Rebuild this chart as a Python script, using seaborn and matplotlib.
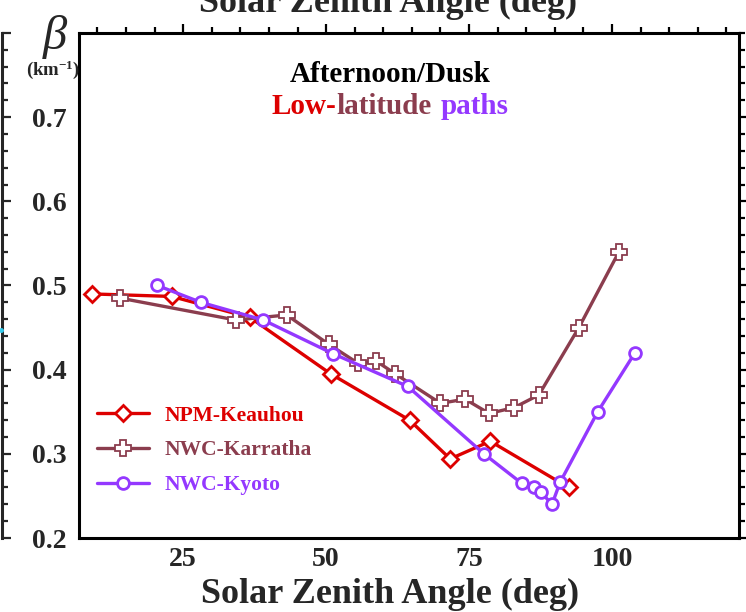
import numpy as np
import pandas as pd
import matplotlib
matplotlib.use("Agg")
import matplotlib.pyplot as plt
import seaborn as sns
from matplotlib.ticker import MultipleLocator, FixedLocator
from matplotlib.offsetbox import TextArea, HPacker, AnnotationBbox
from matplotlib.lines import Line2D

# ---------------- data ----------------
keauhou_sza = [9.0, 23.0, 36.7, 50.8, 64.6, 71.7, 78.7, 92.4]
keauhou_beta = [0.490, 0.487, 0.462, 0.395, 0.340, 0.294, 0.315, 0.260]

karratha_sza = [14.0, 34.2, 43.1, 50.5, 55.5, 58.8, 62.1, 70.0, 74.3, 78.5, 82.9, 87.2, 94.2, 101.2]
karratha_beta = [0.485, 0.459, 0.465, 0.430, 0.408, 0.410, 0.395, 0.360, 0.365, 0.348, 0.355, 0.370, 0.450, 0.540]

kyoto_sza = [20.5, 28.1, 39.0, 51.2, 64.3, 77.6, 84.2, 86.4, 87.5, 89.5, 90.9, 97.5, 104.0]
kyoto_beta = [0.500, 0.480, 0.459, 0.419, 0.380, 0.300, 0.265, 0.260, 0.255, 0.240, 0.266, 0.350, 0.420]

series_names = ["NPM-Keauhou", "NWC-Karratha", "NWC-Kyoto"]
x_ticks = [25, 50, 75, 100]
y_ticks = [0.2, 0.3, 0.4, 0.5, 0.6, 0.7]
y_tick_labels = ["0.2", "0.3", "0.4", "0.5", "0.6", "0.7"]

RED = "#dd0000"
BROWN = "#8b3d4e"
PURPLE = "#9438ff"

df = pd.concat([
    pd.DataFrame({"sza": keauhou_sza, "beta": keauhou_beta, "path": series_names[0]}),
    pd.DataFrame({"sza": karratha_sza, "beta": karratha_beta, "path": series_names[1]}),
    pd.DataFrame({"sza": kyoto_sza, "beta": kyoto_beta, "path": series_names[2]}),
], ignore_index=True)

sns.set_theme(style="white")
plt.rcParams["font.family"] = ["Liberation Serif", "DejaVu Serif"]
plt.rcParams["font.weight"] = "bold"
plt.rcParams["mathtext.fontset"] = "custom"
plt.rcParams["mathtext.rm"] = "Liberation Serif:bold"
plt.rcParams["mathtext.bf"] = "Liberation Serif:bold"
plt.rcParams["mathtext.it"] = "Liberation Serif:italic"

W, H = 746, 612
fig = plt.figure(figsize=(W / 100, H / 100), dpi=100)
ax = fig.add_axes([78.5 / W, 1 - 538 / H, (739 - 78.5) / W, (538 - 33) / H])

styles = {
    series_names[0]: dict(color=RED, marker="D", ms=8, mew=2.0, lw=2.4),
    series_names[1]: dict(color=BROWN, marker="P", ms=11, mew=1.3, lw=2.4),
    series_names[2]: dict(color=PURPLE, marker="o", ms=8.5, mew=2.0, lw=2.4),
}
for name in series_names:
    st = styles[name]
    sub = df[df["path"] == name]
    sns.lineplot(data=sub, x="sza", y="beta", ax=ax, sort=False, estimator=None,
                 color=st["color"], marker=st["marker"], markersize=st["ms"],
                 markerfacecolor="white", markeredgecolor=st["color"],
                 markeredgewidth=st["mew"], linewidth=st["lw"], label=name, zorder=3)

ax.set_xlim(6.7, 122.2)
ax.set_ylim(0.2, 0.8)
ax.xaxis.set_major_locator(FixedLocator(x_ticks))
ax.xaxis.set_minor_locator(MultipleLocator(5))
ax.yaxis.set_major_locator(FixedLocator(y_ticks))
ax.set_yticklabels(y_tick_labels)
ax.yaxis.set_minor_locator(MultipleLocator(0.02))
ax.tick_params(which="both", direction="out", top=True, right=True,
               labeltop=False, labelright=False, width=1.6, color="black")
ax.tick_params(which="major", length=6.5, labelsize=20)
ax.tick_params(axis="x", which="major", pad=0)
ax.tick_params(axis="y", which="major", pad=2)
ax.tick_params(which="minor", length=4)
for lab in ax.get_xticklabels() + ax.get_yticklabels():
    lab.set_fontweight("bold")
for sp in ax.spines.values():
    sp.set_visible(True)
    sp.set_linewidth(2.2)
    sp.set_color("black")
ax.grid(False)
ax.set_xlabel("Solar Zenith Angle (deg)", fontsize=26, fontweight="bold")
ax.xaxis.set_label_coords((390 - 78.5) / (739 - 78.5), (538 - 578) / (538 - 33))
ax.set_ylabel("")

# legend
leg = ax.legend(loc="upper left", bbox_to_anchor=(0.028, 0.262), frameon=False,
                fontsize=15.5, handlelength=2.4, handletextpad=0.75, labelspacing=0.68,
                borderpad=0, borderaxespad=0, labelcolor="linecolor")
for t in leg.get_texts():
    t.set_fontweight("bold")

# beta label
fig.text(55 / W, 1 - 37 / H, "β", fontsize=35, fontstyle="italic", fontweight="normal",
         ha="center", va="center")
fig.text(53 / W, 1 - 70 / H, r"(km$^{-1}$)", fontsize=13.5, fontweight="bold",
         ha="center", va="center")

# annotation
fig.text(390 / W, 1 - 74 / H, "Afternoon/Dusk", fontsize=21, fontweight="bold",
         ha="center", va="center", color="black")
tp = dict(fontsize=21, fontweight="bold")
box = HPacker(children=[
    HPacker(children=[TextArea("Low-", textprops=dict(color=RED, **tp)),
                      TextArea("latitude", textprops=dict(color=BROWN, **tp))], sep=0, pad=0),
    TextArea("paths", textprops=dict(color=PURPLE, **tp))], sep=6, pad=0, align="baseline")
ab = AnnotationBbox(box, (390 / W, 1 - 106 / H), xycoords="figure fraction",
                    frameon=False, box_alignment=(0.5, 0.5), pad=0)
fig.add_artist(ab)

# cut-off pieces of neighbouring panels (as in the reference crop)
fig.text(388 / W, 1 - 12 / H, "Solar Zenith Angle (deg)", fontsize=26, fontweight="bold",
         ha="center", va="baseline")
axl = fig.add_axes([1.5 / W - 0.1, 1 - 538 / H, 0.1, (538 - 33) / H])
axl.set_xlim(0, 1)
axl.set_ylim(0.2, 0.8)
axl.yaxis.set_major_locator(MultipleLocator(0.1))
axl.yaxis.set_minor_locator(MultipleLocator(0.02))
axl.yaxis.tick_right()
axl.tick_params(which="both", direction="out", width=1.6, labelright=False, labelleft=False,
                bottom=False, labelbottom=False, left=False)
axl.tick_params(which="major", length=6.5)
axl.tick_params(which="minor", length=4)
for k, sp in axl.spines.items():
    sp.set_visible(k == "right")
axl.spines["right"].set_linewidth(2.2)
axl.set_facecolor("none")
axl.grid(False)
fig.add_artist(Line2D([1 / W], [1 - 330 / H], marker="o", ms=2.5, color="#33ccee",
                      transform=fig.transFigure))

fig.savefig("out.png", dpi=100)
